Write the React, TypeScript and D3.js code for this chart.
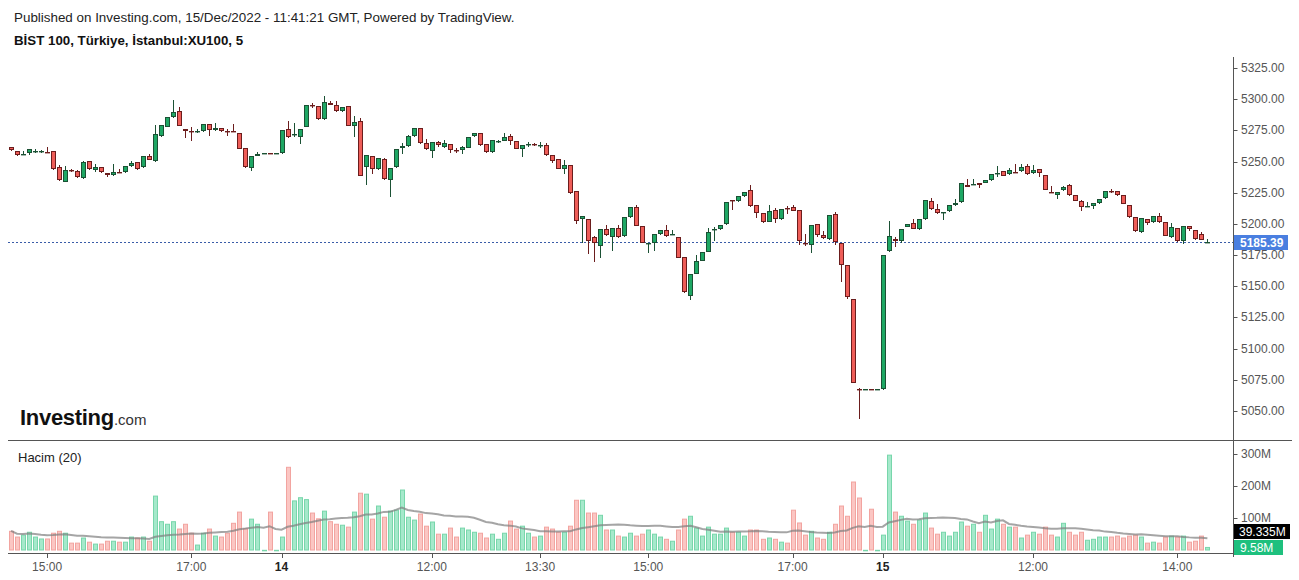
import React from "react";
import * as d3 from "d3";

// [open, high, low, close] per 5-minute bar
const ohlc: number[][] = [
  [5261.4,5261.8,5258.8,5259.0],[5258.2,5258.4,5254.2,5255.0],[5256.0,5258.7,5255.9,5256.2],[5256.6,5260.0,5255.2,5259.8],[5258.1,5259.8,5256.6,5258.3],
  [5257.4,5259.0,5257.0,5258.5],[5257.9,5261.6,5257.4,5257.5],[5258.2,5258.4,5243.0,5244.3],[5245.4,5247.0,5234.8,5235.0],[5233.4,5246.2,5233.2,5243.0],
  [5243.3,5244.3,5241.8,5242.6],[5242.4,5243.5,5237.2,5237.4],[5237.1,5250.7,5236.3,5249.6],[5250.2,5250.4,5243.6,5243.8],[5243.2,5247.8,5242.0,5245.4],
  [5245.4,5245.6,5241.2,5241.4],[5240.6,5240.8,5237.8,5239.0],[5239.0,5248.0,5238.8,5241.6],[5242.0,5244.0,5241.2,5241.6],[5241.4,5246.6,5241.2,5246.4],
  [5246.2,5250.7,5246.0,5249.1],[5249.6,5249.8,5243.6,5243.8],[5245.4,5254.6,5245.2,5254.4],[5254.4,5256.3,5251.3,5251.5],[5250.2,5279.5,5250.0,5272.1],
  [5270.7,5279.5,5269.9,5279.3],[5277.5,5285.7,5277.3,5285.5],[5285.5,5299.3,5285.3,5289.7],[5290.2,5293.5,5278.1,5278.3],[5275.9,5276.1,5269.1,5274.3],
  [5274.2,5278.0,5266.7,5274.0],[5274.4,5276.3,5272.9,5274.6],[5274.2,5280.3,5274.0,5280.1],[5280.1,5280.3,5270.2,5275.0],[5275.0,5280.7,5274.8,5276.9],
  [5276.7,5277.0,5274.0,5274.2],[5274.1,5275.9,5270.7,5273.9],[5274.1,5280.1,5273.7,5273.9],[5272.6,5272.8,5260.1,5260.3],[5260.9,5261.1,5244.6,5245.4],
  [5244.8,5254.6,5242.4,5254.4],[5254.4,5257.6,5254.2,5256.0],[5256.8,5256.8,5256.8,5256.8],[5256.8,5256.8,5256.7,5256.7],[5256.8,5256.8,5256.8,5256.8],
  [5256.6,5275.5,5256.4,5275.3],[5275.9,5282.5,5269.2,5269.4],[5271.7,5280.7,5269.9,5271.9],[5269.9,5276.1,5263.8,5275.9],[5277.5,5295.5,5277.3,5295.3],
  [5295.7,5297.2,5293.2,5295.5],[5294.5,5294.7,5283.7,5283.9],[5283.9,5302.5,5283.7,5297.5],[5296.7,5298.5,5295.0,5295.1],[5295.3,5298.5,5290.1,5290.3],
  [5290.3,5293.7,5290.1,5293.5],[5294.5,5294.7,5278.1,5278.3],[5278.3,5286.5,5269.9,5281.7],[5282.5,5284.7,5238.2,5238.4],[5245.4,5255.2,5231.2,5255.0],
  [5254.4,5254.6,5239.8,5244.3],[5243.8,5253.0,5243.6,5252.8],[5252.3,5252.5,5235.6,5235.8],[5235.0,5245.0,5221.3,5244.8],[5245.4,5260.0,5245.2,5259.8],
  [5260.6,5264.6,5255.8,5262.5],[5262.2,5271.0,5262.0,5270.2],[5270.2,5276.9,5270.0,5276.7],[5276.7,5276.9,5264.4,5264.6],[5264.6,5267.8,5259.6,5259.8],
  [5258.2,5265.6,5253.1,5265.4],[5265.4,5266.7,5261.4,5263.0],[5261.4,5267.3,5261.2,5264.9],[5264.1,5264.3,5256.6,5259.3],[5259.4,5261.1,5256.6,5259.2],
  [5259.0,5262.5,5255.8,5261.4],[5260.9,5269.6,5260.7,5269.4],[5270.2,5272.8,5270.0,5272.6],[5272.6,5273.0,5262.8,5263.0],[5264.1,5264.3,5257.2,5257.4],
  [5257.4,5267.5,5257.2,5267.3],[5266.3,5266.9,5264.6,5266.7],[5266.7,5273.1,5266.5,5269.4],[5270.2,5272.1,5263.0,5266.7],[5266.2,5266.4,5260.1,5260.3],
  [5259.8,5263.2,5253.9,5263.0],[5263.7,5265.4,5261.9,5263.9],[5263.9,5265.2,5262.2,5263.7],[5262.9,5265.7,5261.1,5263.1],[5263.0,5264.6,5254.8,5255.0],
  [5255.0,5255.2,5248.6,5250.7],[5251.8,5252.0,5244.1,5244.3],[5244.3,5251.2,5239.8,5247.0],[5247.0,5247.2,5223.7,5225.0],[5226.1,5226.3,5199.7,5202.1],
  [5203.7,5206.5,5185.0,5206.3],[5203.7,5204.0,5175.6,5186.3],[5189.7,5190.0,5169.4,5184.4],[5182.0,5195.9,5172.4,5195.7],[5195.7,5199.1,5190.7,5190.9],
  [5189.3,5196.7,5178.0,5196.5],[5196.5,5199.1,5189.1,5189.3],[5190.1,5205.5,5189.9,5205.3],[5205.3,5213.5,5205.1,5213.3],[5213.3,5214.9,5198.1,5198.3],
  [5198.1,5198.3,5184.4,5184.6],[5184.4,5185.0,5176.4,5184.8],[5184.4,5192.0,5178.0,5191.7],[5191.7,5195.0,5191.5,5194.9],[5194.9,5198.9,5189.8,5190.1],
  [5191.5,5195.0,5191.0,5191.7],[5189.3,5189.5,5172.4,5172.6],[5173.2,5173.4,5144.9,5145.2],[5142.0,5159.8,5138.7,5159.6],[5159.8,5174.8,5159.6,5170.6],
  [5170.4,5177.8,5170.2,5177.6],[5177.8,5196.5,5177.6,5193.3],[5195.5,5197.3,5186.0,5195.7],[5195.7,5199.3,5195.5,5198.9],[5199.7,5217.5,5199.5,5217.3],
  [5218.8,5219.1,5210.9,5218.6],[5218.1,5222.4,5217.9,5222.1],[5222.1,5225.5,5221.9,5225.3],[5226.9,5230.9,5213.9,5214.1],[5214.9,5215.1,5205.0,5208.5],
  [5208.5,5208.7,5201.1,5201.3],[5201.7,5215.0,5201.5,5210.1],[5210.9,5212.5,5200.5,5203.7],[5203.7,5211.9,5203.5,5211.7],[5212.6,5214.1,5207.7,5212.3],
  [5213.3,5214.9,5210.0,5210.1],[5210.9,5211.1,5182.8,5186.0],[5184.8,5191.7,5182.0,5184.4],[5183.0,5199.3,5176.4,5198.9],[5199.7,5199.9,5189.3,5190.9],
  [5190.9,5194.1,5188.3,5188.5],[5187.7,5207.1,5187.5,5206.9],[5207.7,5209.3,5183.1,5185.2],[5184.4,5184.6,5153.2,5166.8],[5166.8,5167.0,5139.5,5141.1],
  [5139.5,5139.7,5072.1,5072.2],[5068.0,5068.3,5043.3,5067.8],[5067.4,5067.4,5067.4,5067.4],[5067.4,5067.4,5067.3,5067.3],[5067.4,5067.4,5067.4,5067.4],
  [5067.4,5175.0,5067.2,5174.8],[5178.0,5202.1,5177.8,5190.1],[5187.7,5189.3,5181.2,5186.0],[5186.0,5195.9,5184.7,5195.7],[5197.5,5199.9,5197.3,5199.7],
  [5200.5,5203.7,5196.0,5196.1],[5195.7,5203.9,5195.5,5203.7],[5203.7,5219.3,5203.5,5219.2],[5218.1,5220.5,5211.5,5211.7],[5211.7,5215.7,5208.3,5208.5],
  [5209.1,5209.5,5202.9,5209.3],[5210.1,5215.1,5209.9,5214.9],[5214.9,5219.9,5214.7,5216.5],[5217.3,5232.6,5217.1,5232.4],[5230.9,5235.8,5229.2,5229.4],
  [5231.8,5235.8,5231.5,5232.0],[5232.6,5232.8,5228.5,5231.0],[5232.6,5235.2,5232.4,5235.0],[5235.0,5240.2,5234.8,5240.0],[5240.9,5246.4,5237.4,5241.2],
  [5242.2,5242.4,5238.5,5238.6],[5239.8,5244.6,5239.6,5243.0],[5241.8,5247.8,5241.4,5241.6],[5242.2,5248.0,5242.0,5245.4],[5246.7,5247.8,5239.6,5239.8],
  [5240.6,5247.0,5240.4,5243.0],[5243.8,5244.0,5237.4,5240.6],[5239.0,5239.2,5226.8,5226.9],[5225.2,5230.2,5224.8,5225.0],[5222.9,5225.5,5219.7,5225.3],
  [5226.9,5230.0,5226.7,5229.8],[5231.4,5231.6,5222.7,5222.9],[5222.9,5223.1,5218.4,5218.6],[5218.6,5218.8,5210.1,5213.3],[5214.0,5217.8,5213.8,5214.1],
  [5214.1,5216.7,5212.2,5216.5],[5216.5,5219.9,5216.3,5219.7],[5220.5,5226.3,5220.3,5226.1],[5226.2,5227.7,5224.5,5226.0],[5226.1,5226.3,5222.7,5222.9],
  [5222.9,5223.1,5215.8,5215.9],[5214.9,5215.1,5205.1,5205.3],[5205.3,5205.5,5193.7,5194.5],[5193.3,5204.7,5193.1,5204.5],[5203.7,5203.9,5198.9,5200.5],
  [5201.3,5206.3,5201.1,5206.1],[5206.1,5208.5,5201.1,5201.3],[5201.3,5201.5,5190.0,5190.1],[5189.3,5200.5,5189.1,5197.3],[5196.5,5196.7,5185.8,5186.0],
  [5186.0,5198.1,5183.6,5198.1],[5198.1,5198.3,5194.1,5195.7],[5194.9,5195.1,5187.5,5187.7],[5191.7,5193.7,5186.7,5186.9],[5185.1,5187.7,5184.9,5185.39],
];

// volume in millions
const volume: number[] = [
  60,42,48,57,42,36,36,54,60,54,
  23,23,39,26,20,20,29,29,26,26,
  42,39,42,29,170,90,82,90,67,82,
  54,17,54,67,45,42,54,85,120,68,
  98,82,0.6,120,0.6,42,260,155,165,159,
  117,99,123,90,82,79,73,120,179,176,
  98,139,104,123,126,189,104,95,114,76,
  89,51,51,70,42,70,64,57,54,39,
  51,35,54,92,67,76,54,42,45,73,
  67,57,57,76,157,157,117,117,110,64,
  64,45,42,54,45,51,64,51,42,35,
  29,64,98,107,70,45,73,51,51,70,
  57,57,45,64,64,35,39,35,26,23,
  126,86,48,60,39,35,57,82,139,107,
  214,164,0.6,129,0.6,48,298,120,107,92,
  82,95,117,70,51,57,45,57,89,76,
  82,57,110,67,98,82,73,73,39,48,
  57,51,73,48,42,85,57,48,57,32,
  35,42,42,42,45,39,45,48,42,23,
  26,23,42,45,42,45,26,29,45,9.58,
];

const timeTickIndex = [6, 30, 45, 70, 88, 106, 130, 145, 170, 194];
const timeTickLabel = ["15:00", "17:00", "14", "12:00", "13:30", "15:00", "17:00", "15", "12:00", "14:00"];
const timeTickBold = [false, false, true, false, false, false, false, true, false, false];
const priceTicks = [5050, 5075, 5100, 5125, 5150, 5175, 5200, 5225, 5250, 5275, 5300, 5325];
const volumeTicks = [100, 200, 300];
const maLabelText = "39.335M";
const maPeriod = 20;

const FONT = "'Liberation Sans', Arial, sans-serif";
const UP_FILL = "#1ea764";
const UP_LINE = "#1b5134";
const DN_FILL = "#ee5d58";
const DN_LINE = "#6b1d1d";
const VUP_FILL = "#a5e9cb";
const VUP_LINE = "#78d6ab";
const VDN_FILL = "#fbc6c3";
const VDN_LINE = "#f2a4a0";

export default function App() {
  const n = ohlc.length;
  const x = d3.scaleLinear().domain([0, n - 1]).range([11, 11 + (n - 1) * 6.012]);
  const y = d3.scaleLinear().domain([5050, 5325]).range([411, 68]);
  const yv = d3.scaleLinear().domain([0, 300]).range([550, 454]);

  const ma = volume.map((_, i) => d3.mean(volume.slice(Math.max(0, i - maPeriod + 1), i + 1)) as number);
  const maLine = d3
    .line<number>()
    .x((_, i) => x(i))
    .y((d) => yv(d))
    .curve(d3.curveLinear)(ma) as string;

  const lastClose = ohlc[n - 1][3];
  const lastY = y(lastClose);
  const lastVol = volume[n - 1];
  const lastVolY = yv(lastVol);
  const maY = Math.min(yv(ma[n - 1]), lastVolY - 16);

  const axisX = 1233.5;

  return (
    <svg
      width={1299}
      height={580}
      style={{ position: "absolute", left: 0, top: 0, background: "#fff" }}
      fontFamily={FONT}
    >
      <rect x={0} y={0} width={1299} height={580} fill="#fff" />
      <text x={14} y={22} fontSize={13.4} fill="#222">
        Published on Investing.com, 15/Dec/2022 - 11:41:21 GMT, Powered by TradingView.
      </text>
      <text x={14} y={45} fontSize={13.3} fontWeight="bold" fill="#111">
        BİST 100, Türkiye, İstanbul:XU100, 5
      </text>

      {/* last price dotted line */}
      <line x1={8} x2={axisX} y1={Math.round(lastY) + 0.5} y2={Math.round(lastY) + 0.5} stroke="#3a5ca8" strokeWidth={1} strokeDasharray="2,2" />

      {/* candles */}
      {ohlc.map((d, i) => {
        const [o, h, l, c] = d;
        const up = c >= o;
        const cx = Math.round(x(i));
        const top = Math.round(y(Math.max(o, c)));
        const bot = Math.round(y(Math.min(o, c)));
        const fill = up ? UP_FILL : DN_FILL;
        const line = up ? UP_LINE : DN_LINE;
        const bh = bot - top;
        return (
          <g key={"c" + i}>
            <line x1={cx + 0.5} x2={cx + 0.5} y1={Math.round(y(h))} y2={Math.round(y(l))} stroke={line} strokeWidth={1} />
            {bh >= 2 ? (
              <rect x={cx - 1.5} y={top + 0.5} width={4} height={bh - 1} fill={fill} stroke={line} strokeWidth={1} />
            ) : (
              <rect x={cx - 2} y={top} width={5} height={1.4} fill={line} />
            )}
          </g>
        );
      })}

      {/* pane separator */}
      <line x1={8} x2={1292} y1={440.5} y2={440.5} stroke="#555" strokeWidth={1} />

      {/* Investing logo */}
      <text x={20} y={425} fontSize={22} fontWeight="bold" fill="#111" letterSpacing={-0.3}>
        Investing<tspan fontSize={15} fontWeight="normal" fill="#333" letterSpacing={0}>.com</tspan>
      </text>

      {/* volume pane */}
      <text x={18} y={462} fontSize={13} fill="#222">Hacim (20)</text>
      {volume.map((v, i) => {
        const up = ohlc[i][3] >= ohlc[i][0];
        const cx = Math.round(x(i));
        const top = yv(v);
        return (
          <rect
            key={"v" + i}
            x={cx - 1.5}
            y={top + 0.5}
            width={4}
            height={Math.max(0.5, 550 - top - 0.5)}
            fill={up ? VUP_FILL : VDN_FILL}
            stroke={up ? VUP_LINE : VDN_LINE}
            strokeWidth={1}
          />
        );
      })}
      <path d={maLine} fill="none" stroke="#7f7f7f" strokeOpacity={0.7} strokeWidth={2} />

      {/* time axis */}
      <line x1={8} x2={axisX} y1={553.5} y2={553.5} stroke="#555" strokeWidth={1} />
      {timeTickIndex.map((ti, k) => (
        <g key={"t" + k}>
          <line x1={Math.round(x(ti)) + 0.5} x2={Math.round(x(ti)) + 0.5} y1={554} y2={558} stroke="#555" />
          <text
            x={x(ti)}
            y={571}
            fontSize={12}
            textAnchor="middle"
            fill={timeTickBold[k] ? "#222" : "#555"}
            fontWeight={timeTickBold[k] ? "bold" : "normal"}
          >
            {timeTickLabel[k]}
          </text>
        </g>
      ))}

      {/* price axis */}
      <line x1={axisX} x2={axisX} y1={57} y2={557} stroke="#555" strokeWidth={1} />
      {priceTicks.map((p) => (
        <g key={"p" + p}>
          <line x1={axisX} x2={axisX + 4} y1={Math.round(y(p)) + 0.5} y2={Math.round(y(p)) + 0.5} stroke="#555" />
          <text x={1241} y={y(p) + 4} fontSize={12} fill="#555">
            {d3.format(".2f")(p)}
          </text>
        </g>
      ))}
      <rect x={1234} y={Math.round(lastY) - 7} width={54} height={15} fill="#4a7fe0" />
      <text x={1240} y={Math.round(lastY) + 4.5} fontSize={12} fontWeight="bold" fill="#fff">
        {d3.format(".2f")(lastClose)}
      </text>

      {/* volume axis */}
      {volumeTicks.map((v) => (
        <g key={"vt" + v}>
          <line x1={axisX} x2={axisX + 4} y1={Math.round(yv(v)) + 0.5} y2={Math.round(yv(v)) + 0.5} stroke="#555" />
          <text x={1241} y={yv(v) + 4} fontSize={12} fill="#555">
            {v}M
          </text>
        </g>
      ))}
      <rect x={1234} y={Math.round(maY) - 7} width={56} height={15} fill="#000" />
      <text x={1239} y={Math.round(maY) + 4.5} fontSize={12} fill="#fff">
        {maLabelText}
      </text>
      <rect x={1234} y={Math.round(lastVolY) - 7} width={49} height={15} fill="#1ec07e" />
      <text x={1240} y={Math.round(lastVolY) + 4.5} fontSize={12} fill="#fff">
        {d3.format(".2f")(lastVol)}M
      </text>
    </svg>
  );
}
